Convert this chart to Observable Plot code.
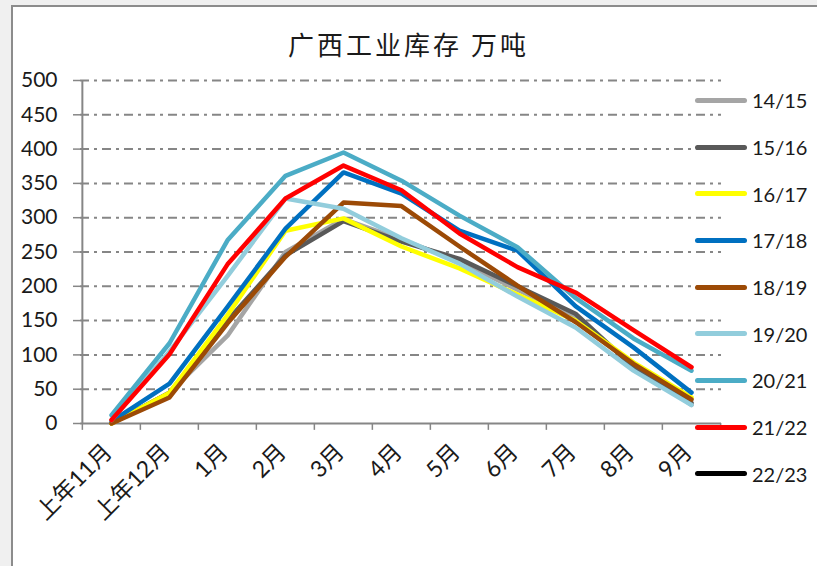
<!DOCTYPE html>
<html>
<head>
<meta charset="utf-8">
<script src="https://cdn.jsdelivr.net/npm/d3@7"></script>
<script src="https://cdn.jsdelivr.net/npm/@observablehq/plot@0.6"></script>
<style>
  html, body { margin: 0; padding: 0; background: #f0f0f0; }
  #wrap { position: relative; width: 817px; height: 566px; overflow: hidden; }
  #frame { position: absolute; left: 11px; top: 5px; width: 806px; height: 561px; background: #fff;
           border-left: 2px solid #8c8c8c; border-top: 2px solid #8c8c8c; box-sizing: border-box; }
  #title { position: absolute; left: 0; width: 817px; top: 25px; text-align: center; letter-spacing: 3px;
           font-family: "Noto Sans CJK SC", sans-serif; font-size: 26px; color: #1a1a1a; }
  #chart { position: absolute; left: 0; top: 0; }
  #legend { position: absolute; left: 695px; top: 77px; font-family: Lato, "Noto Sans CJK SC", sans-serif;
            font-size: 20px; color: #1a1a1a; }
  .item { display: flex; align-items: center; height: 46.7px; }
  .sw { width: 52px; height: 5px; border-radius: 3px; margin-right: 5px; }
</style>
</head>
<body>
<div id="wrap">
  <div id="frame"></div>
  <div id="chart"></div>
  <div id="title">广西工业库存 万吨</div>
  <div id="legend"></div>
</div>
<script>
const categories = ["上年11月","上年12月","1月","2月","3月","4月","5月","6月","7月","8月","9月"];
const seriesNames = ["14/15","15/16","16/17","17/18","18/19","19/20","20/21","21/22","22/23"];
const seriesColors = ["#a5a5a5","#595959","#ffff00","#0070c0","#9c4a06","#92cddc","#4bacc6","#ff0000","#000000"];
const s1415 = [0, 45, 128, 250, 298, 268, 236, 195, 155, 85, 27];
const s1516 = [0, 45, 150, 245, 295, 265, 240, 200, 160, 82, 30];
const s1617 = [0, 45, 158, 281, 299, 258, 226, 188, 150, 89, 38];
const s1718 = [3, 58, 170, 284, 366, 335, 281, 252, 171, 111, 45];
const s1819 = [0, 38, 146, 243, 322, 317, 258, 201, 148, 87, 35];
const s1920 = [5, 105, 215, 328, 313, 270, 233, 185, 140, 77, 27];
const s2021 = [12, 117, 267, 361, 395, 354, 303, 257, 183, 124, 77];
const s2122 = [5, 101, 232, 328, 376, 340, 277, 228, 191, 136, 82];
const s2223 = [];
const yTicks = [0, 50, 100, 150, 200, 250, 300, 350, 400, 450, 500];

const allSeries = [s1415, s1516, s1617, s1718, s1819, s1920, s2021, s2122, s2223];
const rows = [];
allSeries.forEach((vals, si) => vals.forEach((v, i) => rows.push({series: seriesNames[si], cat: categories[i], value: v})));

const W = 817, H = 566, mL = 80, mR = 96, mT = 80, mB = 143;
const step = (W - mL - mR) / categories.length;
const font = 'Lato, "Noto Sans CJK SC", sans-serif';
const last = categories[categories.length - 1];

const chart = Plot.plot({
  width: W, height: H,
  marginLeft: mL, marginRight: mR, marginTop: mT, marginBottom: mB,
  style: {background: "transparent", fontFamily: font, color: "#1a1a1a"},
  x: {type: "point", domain: categories, padding: 0.5, axis: null},
  y: {type: "linear", domain: [0, 500], axis: null},
  color: {domain: seriesNames, range: seriesColors},
  marks: [
    Plot.gridY(yTicks.filter(d => d > 0), {stroke: "#868686", strokeOpacity: 1, strokeWidth: 2, strokeDasharray: "9,5,3,5"}),
    Plot.ruleX([categories[0]], {dx: -step / 2, stroke: "#868686", strokeWidth: 2}),
    Plot.ruleY([0], {stroke: "#868686", strokeWidth: 2}),
    Plot.ruleX(categories, {x: d => d, dx: -step / 2, y1: 0, y2: -10, stroke: "#868686", strokeWidth: 1.5}),
    Plot.ruleX([last], {x: d => d, dx: step / 2, y1: 0, y2: -10, stroke: "#868686", strokeWidth: 1.5}),
    Plot.axisY(yTicks, {label: null, tickSize: 7, tickPadding: 16, fontSize: 21, stroke: "#868686", strokeWidth: 1.5, fill: "#1a1a1a"}),
    Plot.line(rows, {x: "cat", y: "value", z: "series", stroke: "series", strokeWidth: 4.5, strokeLinejoin: "round", strokeLinecap: "round"}),
    Plot.text(categories, {x: d => d, frameAnchor: "bottom", dy: 30, dx: 2, rotate: -45, textAnchor: "end", fontSize: 23, fill: "#1a1a1a"})
  ]
});
document.getElementById("chart").appendChild(chart);

const leg = document.getElementById("legend");
seriesNames.forEach((n, i) => {
  const it = document.createElement("div");
  it.className = "item";
  it.innerHTML = `<div class="sw" style="background:${seriesColors[i]}"></div><span>${n}</span>`;
  leg.appendChild(it);
});
</script>
</body>
</html>
